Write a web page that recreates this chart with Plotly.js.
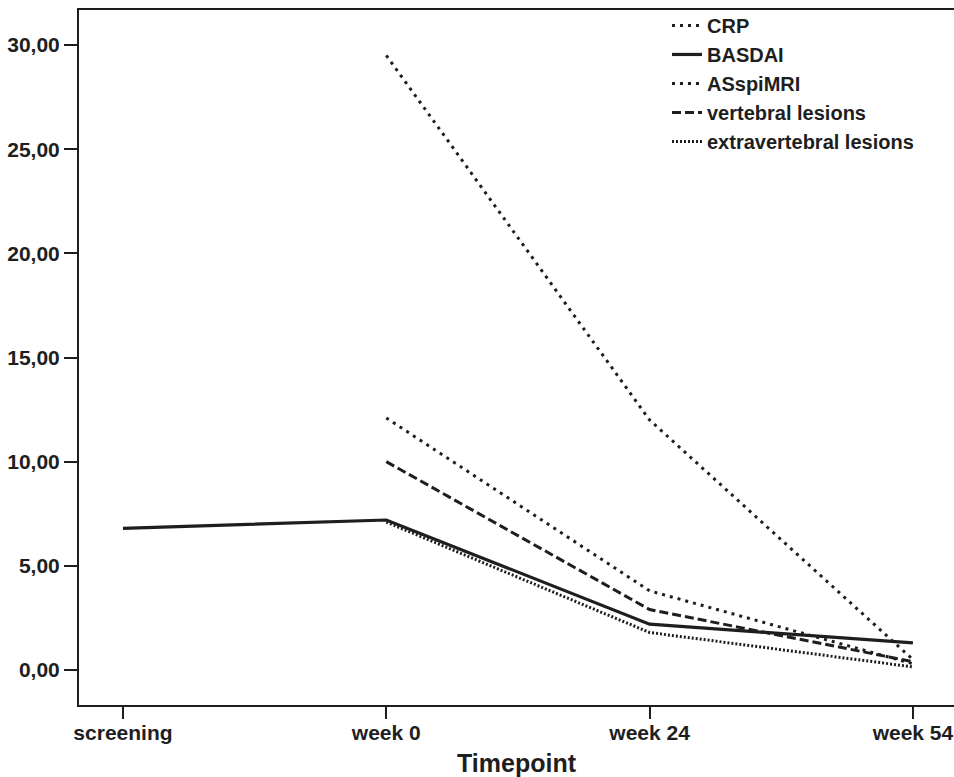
<!DOCTYPE html>
<html>
<head>
<meta charset="utf-8">
<script src="https://cdn.plot.ly/plotly-3.0.1.min.js"></script>
<style>html,body{margin:0;padding:0;background:#fff}#chart{width:954px;height:777px}</style>
</head>
<body>
<div id="chart"></div>
<script>
const timepoints = ["screening", "week 0", "week 24", "week 54"];
const crp = [null, 29.5, 12.0, 0.5];
const basdai = [6.8, 7.2, 2.2, 1.3];
const asspimri = [null, 12.1, 3.8, 0.3];
const vertebral = [null, 10.0, 2.9, 0.4];
const extravertebral = [null, 7.1, 1.8, 0.15];
const yTicks = [0, 5, 10, 15, 20, 25, 30];

const ink = "#1e1e1e";
const font = {family: "Liberation Sans, Arial, sans-serif", color: ink, weight: "bold"};

const traces = [
  {name: "CRP", y: crp, line: {color: ink, width: 3, dash: "3px,5px"}},
  {name: "BASDAI", y: basdai, line: {color: ink, width: 3.2, dash: "solid"}},
  {name: "ASspiMRI", y: asspimri, line: {color: ink, width: 3, dash: "3px,5px"}},
  {name: "vertebral lesions", y: vertebral, line: {color: ink, width: 3, dash: "9px,4px"}},
  {name: "extravertebral lesions", y: extravertebral, line: {color: ink, width: 3, dash: "2px,2px"}}
].map(t => Object.assign({type: "scatter", mode: "lines", x: timepoints, connectgaps: false, hoverinfo: "skip"}, t));

const layout = {
  width: 954, height: 777,
  margin: {l: 79, r: 0, t: 10, b: 72},
  paper_bgcolor: "#fff", plot_bgcolor: "#fff",
  separators: ",.",
  showlegend: true,
  legend: {
    x: 0.672, xanchor: "left", y: 1.0058, yanchor: "top",
    bgcolor: "rgba(0,0,0,0)", borderwidth: 0,
    font: Object.assign({}, font, {size: 20}),
    itemwidth: 30, tracegroupgap: 0
  },
  xaxis: {
    type: "category",
    range: [-0.167, 3.156],
    showgrid: false, zeroline: false,
    showline: true, linecolor: ink, linewidth: 2, mirror: true,
    ticks: "outside", ticklen: 12, tickwidth: 2, tickcolor: ink,
    ticklabelstandoff: -4,
    tickfont: Object.assign({}, font, {size: 21}),
    title: {text: "Timepoint", font: Object.assign({}, font, {size: 25}), standoff: 14}
  },
  yaxis: {
    range: [-1.68, 31.68],
    tickvals: yTicks, tickformat: ".2f",
    showgrid: false, zeroline: false,
    showline: true, linecolor: ink, linewidth: 2,
    ticks: "outside", ticklen: 13, tickwidth: 2, tickcolor: ink,
    tickfont: Object.assign({}, font, {size: 21})
  }
};

Plotly.newPlot("chart", traces, layout, {staticPlot: true, displayModeBar: false});
</script>
</body>
</html>
